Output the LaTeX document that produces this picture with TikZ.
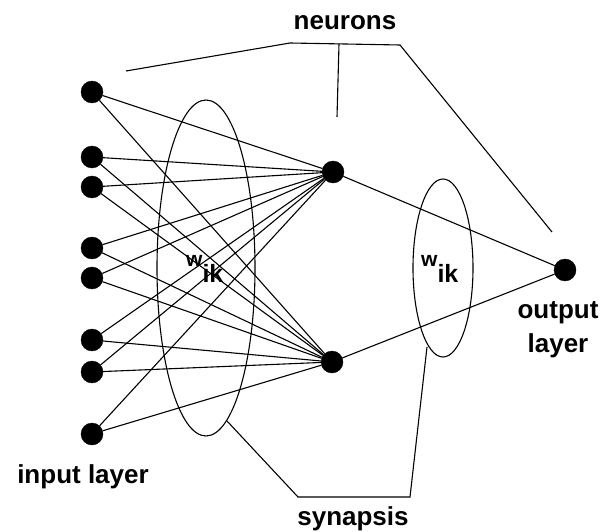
\documentclass[tikz,border=0pt]{standalone}
\usepackage{fontspec}
\setmainfont{Liberation Sans}
\usetikzlibrary{shapes.geometric}
\usetikzlibrary{positioning}
\tikzset{
    neuron/.style = {circle, draw=black, fill=black, inner sep=0pt, minimum size=22pt},
    synapse/.style = {ellipse, draw=black, line width=1.1pt, inner sep=0pt},
    edgen/.style = {line width=1.1pt, black},
    pointer/.style = {line width=1.1pt, black},
    lbl/.style = {inner sep=0pt, font=\fontsize{26}{34}\selectfont\bfseries},
    wlbl/.style = {inner sep=0pt, anchor=base west, font=\fontsize{25}{25}\selectfont\bfseries}
}
\newcommand{\Wik}{\raisebox{16pt}{\fontsize{21}{21}\selectfont w}ik}

\begin{document}
\begin{tikzpicture}[x=1pt, y=-1pt]
\useasboundingbox (0,0) rectangle (600,532);
% synapsis ellipses
\node[synapse, minimum width=98pt, minimum height=336pt] at (206,268) (e1) {};
\node[synapse, minimum width=60pt, minimum height=178pt] at (443,268) (e2) {};
\node[wlbl] at (186,282) (w1) {\Wik};
\node[wlbl] at (421,282) (w2) {\Wik};
% input layer
\node[neuron] at (92,92) (i1) {};
\node[neuron] at (92,157) (i2) {};
\node[neuron] at (92,187) (i3) {};
\node[neuron] at (92,248) (i4) {};
\node[neuron] at (92,278) (i5) {};
\node[neuron] at (92,340) (i6) {};
\node[neuron] at (92,372) (i7) {};
\node[neuron] at (92,434) (i8) {};
% hidden and output
\node[neuron] at (333,172) (h1) {};
\node[neuron] at (332,362) (h2) {};
\node[neuron] at (565,270) (o) {};
\draw[edgen] (i1) -- (h1);
\draw[edgen] (i1) -- (h2);
\draw[edgen] (i2) -- (h1);
\draw[edgen] (i2) -- (h2);
\draw[edgen] (i3) -- (h1);
\draw[edgen] (i3) -- (h2);
\draw[edgen] (i4) -- (h1);
\draw[edgen] (i4) -- (h2);
\draw[edgen] (i5) -- (h1);
\draw[edgen] (i5) -- (h2);
\draw[edgen] (i6) -- (h1);
\draw[edgen] (i6) -- (h2);
\draw[edgen] (i7) -- (h1);
\draw[edgen] (i7) -- (h2);
\draw[edgen] (i8) -- (h1);
\draw[edgen] (i8) -- (h2);
\draw[edgen] (h1) -- (o);
\draw[edgen] (h2) -- (o);
% labels
\node[lbl] at (345,23) (neur) {neurons};
\node[lbl, anchor=base] at (83,483) (inl) {input layer};
\node[lbl, anchor=base] at (353,525) (syn) {synapsis};
\node[lbl, anchor=base, align=center] at (558,352) (outl) {output\\layer};
% pointer lines
\coordinate (n1) at (126,71);
\coordinate (nl) at (290,43);
\coordinate (nm) at (339,44);
\coordinate (nr) at (400,45);
\coordinate (n2) at (337,117);
\coordinate (n3) at (552,232);
\draw[pointer] (n1) -- (nl) -- (nr) -- (n3);
\draw[pointer] (nm) -- (n2);
\coordinate (s1) at (227,421);
\coordinate (sl) at (298,497);
\coordinate (sr) at (410,497);
\coordinate (s2) at (427,347);
\draw[pointer] (s1) -- (sl) -- (sr) -- (s2);
\end{tikzpicture}
\end{document}
